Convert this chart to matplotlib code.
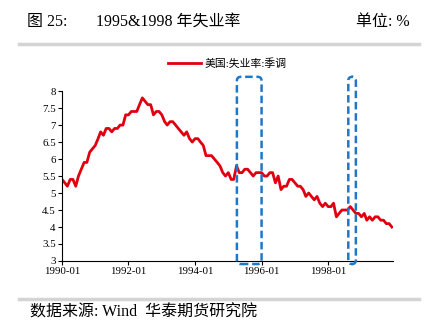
import datetime as dt

import matplotlib
matplotlib.use("Agg")
import matplotlib.dates as mdates
import matplotlib.pyplot as plt
from matplotlib.patches import FancyBboxPatch

plt.rcParams["font.family"] = ["Liberation Serif", "Noto Sans CJK SC"]

# US unemployment rate, seasonally adjusted, monthly 1990-01 .. 1999-12
rate_1990 = [5.4, 5.3, 5.2, 5.4, 5.4, 5.2, 5.5, 5.7, 5.9, 5.9, 6.2, 6.3]
rate_1991 = [6.4, 6.6, 6.8, 6.7, 6.9, 6.9, 6.8, 6.9, 6.9, 7.0, 7.0, 7.3]
rate_1992 = [7.3, 7.4, 7.4, 7.4, 7.6, 7.8, 7.7, 7.6, 7.6, 7.3, 7.4, 7.4]
rate_1993 = [7.3, 7.1, 7.0, 7.1, 7.1, 7.0, 6.9, 6.8, 6.7, 6.8, 6.6, 6.5]
rate_1994 = [6.6, 6.6, 6.5, 6.4, 6.1, 6.1, 6.1, 6.0, 5.9, 5.8, 5.6, 5.5]
rate_1995 = [5.6, 5.4, 5.4, 5.8, 5.6, 5.6, 5.7, 5.7, 5.6, 5.5, 5.6, 5.6]
rate_1996 = [5.6, 5.5, 5.5, 5.6, 5.6, 5.3, 5.5, 5.1, 5.2, 5.2, 5.4, 5.4]
rate_1997 = [5.3, 5.2, 5.2, 5.1, 4.9, 5.0, 4.9, 4.8, 4.9, 4.7, 4.6, 4.7]
rate_1998 = [4.6, 4.6, 4.7, 4.3, 4.4, 4.5, 4.5, 4.5, 4.6, 4.5, 4.4, 4.4]
rate_1999 = [4.3, 4.4, 4.2, 4.3, 4.2, 4.3, 4.3, 4.2, 4.2, 4.1, 4.1, 4.0]

rates = (rate_1990 + rate_1991 + rate_1992 + rate_1993 + rate_1994
         + rate_1995 + rate_1996 + rate_1997 + rate_1998 + rate_1999)
dates = [dt.date(1990 + i // 12, i % 12 + 1, 1) for i in range(len(rates))]

series_label = "美国:失业率:季调"
# highlighted periods (start, end)
highlights = [(dt.date(1995, 4, 5), dt.date(1996, 1, 1)),
              (dt.date(1998, 8, 10), dt.date(1998, 11, 1))]

fig = plt.figure(figsize=(4.32, 3.23), dpi=100)
ax = fig.add_axes([0.1435, 0.192, 0.7665, 0.526])

ax.plot(dates, rates, color="#e00010", lw=2.0, label=series_label)

ax.set_ylim(3, 8)
ax.set_yticks([3, 3.5, 4, 4.5, 5, 5.5, 6, 6.5, 7, 7.5, 8])
ax.set_yticklabels(["3", "3.5", "4", "4.5", "5", "5.5", "6", "6.5", "7", "7.5", "8"])
ax.set_xlim(dt.date(1990, 1, 1), dt.date(1999, 12, 15))
ax.set_xticks([dt.date(y, 1, 1) for y in range(1990, 2000, 2)])
ax.xaxis.set_major_formatter(mdates.DateFormatter("%Y-%m"))
ax.tick_params(labelsize=7.8, length=3, width=0.8, pad=1.5)
for s in ["top", "right"]:
    ax.spines[s].set_visible(False)

# dashed rounded boxes
x_per_px = 365.25 * 2 / 66.5
y_per_px = 1 / 34.0
for x0, x1 in highlights:
    a = mdates.date2num(x0)
    b = mdates.date2num(x1)
    box = FancyBboxPatch((a, 2.91), b - a, 8.42 - 2.91,
                         boxstyle="round,pad=0,rounding_size=%f" % (4 * x_per_px),
                         mutation_aspect=y_per_px / x_per_px,
                         fill=False, ec="#1f77c8", lw=1.8, ls=(0, (3, 1.5)),
                         clip_on=False, zorder=5)
    ax.add_patch(box)

ax.legend(loc="center", bbox_to_anchor=(0.5, 1 + 28 / 170), frameon=False,
          fontsize=7.8, handlelength=3.0, handletextpad=0.4, borderaxespad=0)

# header and footer
fig.text(27 / 432, 1 - 22 / 323, "图 25:", fontsize=11.5, va="center")
fig.text(96 / 432, 1 - 22 / 323, "1995&1998 年失业率", fontsize=11.5, va="center")
fig.text(410 / 432, 1 - 22 / 323, "单位: %", fontsize=11.5, va="center", ha="right")
fig.add_artist(plt.Line2D([19 / 432, 419 / 432], [1 - 44 / 323, 1 - 44 / 323],
                          color="#d4d4d4", lw=2.5))
fig.add_artist(plt.Line2D([19 / 432, 419 / 432], [1 - 299 / 323, 1 - 299 / 323],
                          color="#d4d4d4", lw=2.5))
fig.text(30 / 432, 1 - 313 / 323, "数据来源: Wind  华泰期货研究院", fontsize=11.5, va="center")

fig.savefig("out.png", dpi=100)
